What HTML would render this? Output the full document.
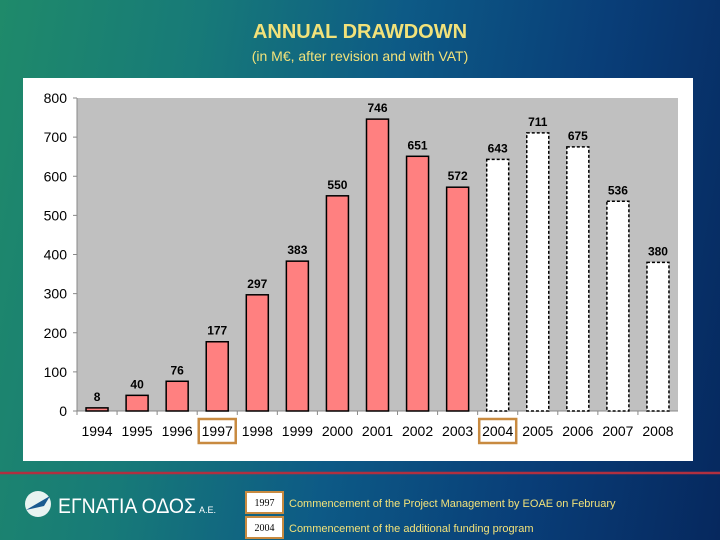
<!DOCTYPE html>
<html><head><meta charset="utf-8"><style>
body{margin:0;width:720px;height:540px;overflow:hidden;font-family:"Liberation Sans",sans-serif;}
#bg{position:absolute;left:0;top:0;width:720px;height:540px;background:linear-gradient(100deg,#1f8a6a 0%,#177a78 25%,#0d5a86 50%,#093e78 75%,#06285e 100%);}
.t{position:absolute;width:720px;text-align:center;color:#f2e27a;}
</style></head><body>
<div id="bg"></div>
<div class="t" style="top:21px;font-size:20px;font-weight:bold;">ANNUAL DRAWDOWN</div>
<div class="t" style="top:48px;font-size:14px;">(in M€, after revision and with VAT)</div>
<svg id="chart" width="720" height="540" style="position:absolute;left:0;top:0"></svg>
<script>
const years=["1994","1995","1996","1997","1998","1999","2000","2001","2002","2003","2004","2005","2006","2007","2008"];
const values=[8,40,76,177,297,383,550,746,651,572,643,711,675,536,380];
const forecast=[false,false,false,false,false,false,false,false,false,false,true,true,true,true,true];
const yTicks=[0,100,200,300,400,500,600,700,800];
const highlighted=["1997","2004"];
const NS="http://www.w3.org/2000/svg";
const svg=document.getElementById('chart');
const L=77,R=678,T=98,B=411,MAX=800;
const cw=(R-L)/years.length;
const y=v=>B-(v/MAX)*(B-T);
const x=i=>L+cw*(i+0.5);
function mk(tag,a,parent){const e=document.createElementNS(NS,tag);for(const k in a)e.setAttribute(k,a[k]);(parent||svg).appendChild(e);return e;}
let panel=mk('rect',{x:23,y:78,width:670,height:383,fill:'#fff'});


let plot=mk('rect',{x:L,y:T,width:R-L,height:B-T,fill:'#c0c0c0'});


mk('line',{x1:L,y1:T,x2:L,y2:B,stroke:'#888'});
mk('line',{x1:L,y1:B,x2:R,y2:B,stroke:'#888'});
yTicks.forEach(v=>{
  mk('line',{x1:L-4,y1:y(v),x2:L,y2:y(v),stroke:'#888'});
  let t=mk('text',{x:L-10,y:y(v)+5,'text-anchor':'end','font-size':14,fill:'#000'});t.textContent=v;
  
  
});
years.forEach((yr,i)=>{
  mk('line',{x1:L+cw*i,y1:B,x2:L+cw*i,y2:B+4,stroke:'#888'});
  const bw=22,h=B-y(values[i]);
  let b=mk('rect',{x:x(i)-bw/2,y:y(values[i]),width:bw,height:h,fill:forecast[i]?'#fff':'#ff8080',stroke:'#000','stroke-width':1.5,'stroke-dasharray':forecast[i]?'3,2':'none'});
  
  
  let vl=mk('text',{x:x(i),y:y(values[i])-7,'text-anchor':'middle','font-size':12,'font-weight':'bold',fill:'#000'});vl.textContent=values[i];
  
  
  let xl=mk('text',{x:x(i),y:436,'text-anchor':'middle','font-size':14,fill:'#000'});xl.textContent=yr;
  
  
  if(highlighted.includes(yr)){
    let hb=mk('rect',{x:x(i)-18.5,y:419,width:37,height:24,fill:'none',stroke:'#c88a40','stroke-width':2.5});
    
    
  }
});
let rl=mk('line',{x1:0,y1:473,x2:720,y2:473,stroke:'#b03040','stroke-width':2.5});


let lc=mk('circle',{cx:38,cy:504,r:13,fill:'#fff',opacity:0.9});


mk('path',{d:'M26,510 L50,496 L44,506 Z',fill:'#1a5a90'});
let lt=mk('text',{x:58,y:513,'font-size':21,fill:'#fff',textLength:138,lengthAdjust:'spacingAndGlyphs'});lt.textContent='ΕΓΝΑΤΙΑ ΟΔΟΣ';


let la=mk('text',{x:199,y:513,'font-size':9,fill:'#fff'});la.textContent='A.E.';
const legYears=["1997","2004"];
const legText=["Commencement of the Project Management by EOAE on February","Commencement of the additional funding program"];
legYears.forEach((yr,k)=>{
  const yy=492+k*25;
  let r=mk('rect',{x:246,y:yy,width:37,height:21,fill:'#fff',stroke:'#c88a40','stroke-width':2});
  
  
  let a=mk('text',{x:264.5,y:yy+14,'text-anchor':'middle','font-size':10,'font-family':'Liberation Serif, serif',fill:'#000'});a.textContent=yr;
  let b=mk('text',{x:289,y:yy+15,'font-size':11,fill:'#f2e27a'});b.textContent=legText[k];
  
  
});
</script>
</body></html>
